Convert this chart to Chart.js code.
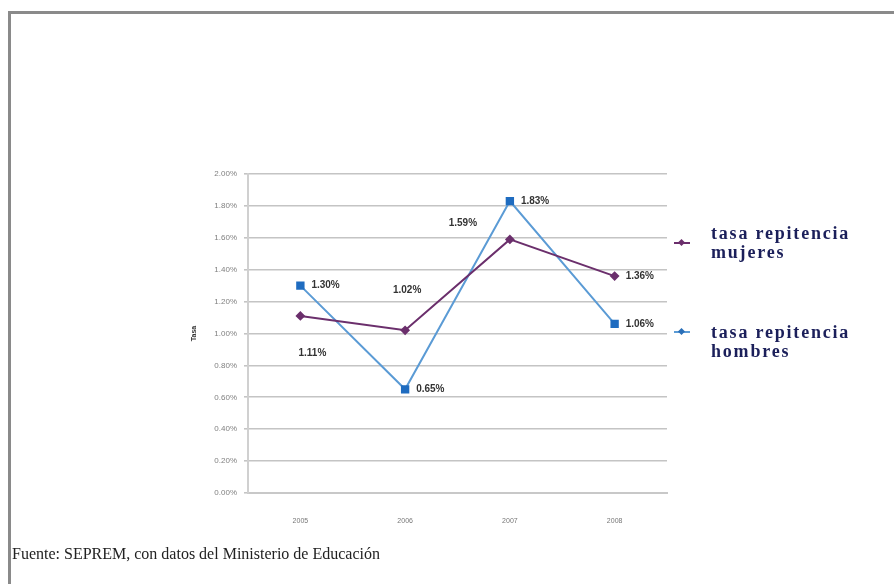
<!DOCTYPE html>
<html lang="es">
<head>
    <meta charset="UTF-8">
    <title>Tasa de repitencia</title>
    <script src="https://cdn.jsdelivr.net/npm/chart.js"></script>
    <style>
        html, body { margin: 0; padding: 0; background: #fff; }
        #wrap { position: relative; width: 894px; height: 584px; overflow: hidden; }
        #frame {
            position: absolute; left: 8px; top: 11px; right: -10px; bottom: -10px;
            border-top: 3px solid #8a8a8a; border-left: 3px solid #8a8a8a;
        }
        canvas { position: absolute; left: 0; top: 0; }
        .leg {
            position: absolute; left: 711px;
            font-family: "Liberation Serif", "DejaVu Serif", serif;
            font-weight: bold; font-size: 18px; line-height: 19px;
            letter-spacing: 1.8px; color: #1b1f5a;
        }
        .mk { position: absolute; height: 2px; width: 16px; }
        .mk i { position: absolute; left: 5px; top: -2px; width: 5px; height: 5px; transform: rotate(45deg); }
        #src {
            position: absolute; left: 12px; top: 545px;
            font-family: "Liberation Serif", "DejaVu Serif", serif;
            font-size: 16px; color: #222;
        }
    </style>
</head>
<body>
<div id="wrap">
    <div id="frame"></div>
    <canvas id="chart" width="894" height="584"></canvas>
    <div class="mk" style="left:674px; top:242px; background:#6b2f6c;"><i style="background:#6b2f6c;"></i></div>
    <div class="leg" style="top:224px;">tasa repitencia<br>mujeres</div>
    <div class="mk" style="left:674px; top:331px; background:#5b9bd5;"><i style="background:#2a6fb8;"></i></div>
    <div class="leg" style="top:323px;">tasa repitencia<br>hombres</div>
    <div id="src">Fuente: SEPREM, con datos del Ministerio de Educación</div>
</div>
<script>
    const years = ['2005', '2006', '2007', '2008'];
    const mujeres = [1.11, 1.02, 1.59, 1.36];
    const hombres = [1.30, 0.65, 1.83, 1.06];

    // where each data label sits relative to its point
    const placeMujeres = ['below', 'above', 'upleft', 'right'];
    const placeHombres = ['right', 'right', 'right', 'right'];

    const pointLabels = {
        id: 'pointLabels',
        afterDatasetsDraw(chart) {
            const c = chart.ctx;
            c.save();
            c.font = 'bold 10px "Liberation Sans Narrow", "Liberation Sans", sans-serif';
            c.fillStyle = '#333';
            c.textBaseline = 'middle';
            chart.data.datasets.forEach((ds, i) => {
                const meta = chart.getDatasetMeta(i);
                meta.data.forEach((pt, j) => {
                    const txt = ds.data[j].toFixed(2) + '%';
                    let x = pt.x, y = pt.y;
                    const p = ds.place[j];
                    if (p === 'right') { c.textAlign = 'left'; x += 11; }
                    else if (p === 'below') { c.textAlign = 'center'; x += 12; y += 37; }
                    else if (p === 'above') { c.textAlign = 'center'; x += 2; y -= 40; }
                    else { c.textAlign = 'center'; x -= 47; y -= 16; }
                    c.fillText(txt, x, y);
                });
            });
            c.restore();
        }
    };

    new Chart(document.getElementById('chart'), {
        type: 'line',
        data: {
            labels: years,
            datasets: [
                {
                    label: 'tasa repitencia mujeres',
                    data: mujeres,
                    place: placeMujeres,
                    borderColor: '#6b2f6c',
                    backgroundColor: '#6b2f6c',
                    borderWidth: 2,
                    pointStyle: 'rectRot',
                    pointRadius: 3.5,
                    tension: 0
                },
                {
                    label: 'tasa repitencia hombres',
                    data: hombres,
                    place: placeHombres,
                    borderColor: '#5b9bd5',
                    backgroundColor: '#1f6cc0',
                    pointBorderColor: '#1f6cc0',
                    borderWidth: 2,
                    pointStyle: 'rect',
                    pointRadius: 4.5,
                    tension: 0
                }
            ]
        },
        options: {
            responsive: false,
            devicePixelRatio: 1,
            animation: false,
            layout: { padding: { left: 186, right: 227, top: 174, bottom: 61 } },
            plugins: { legend: { display: false }, tooltip: { enabled: false } },
            scales: {
                x: {
                    offset: true,
                    afterFit: s => { s.height = 30; },
                    grid: { display: false, drawTicks: false },
                    border: { color: '#c8c8c8', width: 2 },
                    ticks: { color: '#777', font: { size: 7 }, padding: 24 }
                },
                y: {
                    min: 0,
                    max: 2,
                    afterFit: s => { s.width = 62; },
                    ticks: {
                        stepSize: 0.2,
                        color: '#808080',
                        font: { size: 8 },
                        padding: 7,
                        callback: v => v.toFixed(2) + '%'
                    },
                    grid: { color: '#c4c4c4', lineWidth: 1.6, tickLength: 4 },
                    border: { color: '#d0d0d0', width: 2 },
                    title: {
                        display: true,
                        text: 'Tasa',
                        color: '#333',
                        font: { size: 7, weight: 'bold' },
                        padding: { top: 4, bottom: 0 }
                    }
                }
            }
        },
        plugins: [pointLabels]
    });
</script>
</body>
</html>
